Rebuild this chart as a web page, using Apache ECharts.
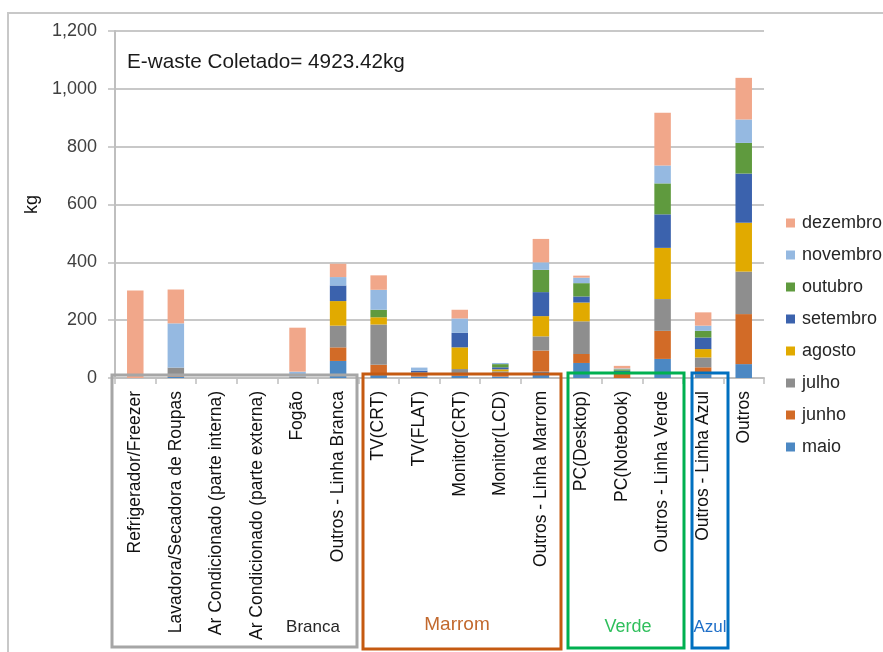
<!DOCTYPE html>
<html>
<head>
<meta charset="utf-8">
<title>E-waste coletado por categoria</title>
<script src="https://cdn.jsdelivr.net/npm/echarts@6/dist/echarts.min.js"></script>
<style>
  html, body { margin: 0; padding: 0; background: #ffffff; }
  #chart { width: 883px; height: 652px; }
</style>
</head>
<body>
<div id="chart"></div>
<script>
// Categorias de resíduos eletroeletrônicos
const categories = [
  'Refrigerador/Freezer',
  'Lavadora/Secadora de Roupas',
  'Ar Condicionado (parte interna)',
  'Ar Condicionado (parte externa)',
  'Fogão',
  'Outros - Linha Branca',
  'TV(CRT)',
  'TV(FLAT)',
  'Monitor(CRT)',
  'Monitor(LCD)',
  'Outros - Linha Marrom',
  'PC(Desktop)',
  'PC(Notebook)',
  'Outros - Linha Verde',
  'Outros - Linha Azul',
  'Outros'
];

// Massa coletada por mês (kg)
const maio     = [0,   5,   0, 0, 0,   59, 10,  5,  8,  5, 22, 52,  0,  66, 12,  48];
const junho    = [0,   3,   0, 0, 0,   47, 36,  5,  6,  8, 73, 31, 20,  97, 25, 173];
const julho    = [0,  28,   0, 0, 5,   75, 139, 10, 17, 10, 49, 113, 0, 110, 34, 147];
const agosto   = [0,   0,   0, 0, 0,   85, 25,  0, 75,  7, 70, 65,  0, 177, 29, 169];
const setembro = [0,   0,   0, 0, 0,   54,  0,  5, 50,  7, 83, 21,  5, 116, 40, 170];
const outubro  = [0,   0,   0, 0, 0,    0, 26,  0,  0, 11, 77, 46,  5, 107, 23, 106];
const novembro = [0, 153,   0, 0, 17,  29, 69, 11, 50,  4, 26, 19,  3,  62, 18,  81];
const dezembro = [303, 117, 0, 0, 152, 46, 50,  0, 30,  0, 81,  7,  9, 182, 46, 144];

const monthNames = ['maio', 'junho', 'julho', 'agosto', 'setembro', 'outubro', 'novembro', 'dezembro'];
const monthData  = [maio, junho, julho, agosto, setembro, outubro, novembro, dezembro];
const monthColors = ['#4c88c3', '#d26b27', '#8e8e8e', '#e1aa00', '#3b62ad', '#5f9a3e', '#95b9e1', '#f1a78a'];

// Valores do eixo y
const yTicks = [0, 200, 400, 600, 800, 1000, 1200];

const totalLabel = 'E-waste Coletado= 4923.42kg';

// Grupos de linhas (rótulo, cor)
const groups = [
  { name: 'Branca', color: '#a6a6a6', text: '#262626' },
  { name: 'Marrom', color: '#c55a11', text: '#c2692e' },
  { name: 'Verde',  color: '#00b050', text: '#2fbf5c' },
  { name: 'Azul',   color: '#0070c0', text: '#1f6fc8' }
];

const FONT = "'Liberation Sans', Arial, sans-serif";

const chart = echarts.init(document.getElementById('chart'), null, { renderer: 'canvas' });

const series = monthNames.map((m, i) => ({
  name: m,
  type: 'bar',
  stack: 'total',
  barWidth: 16.5,
  data: monthData[i],
  itemStyle: { color: monthColors[i] },
  emphasis: { disabled: true }
}));

const boxStroke = (x, y, w, h, color) => ({
  type: 'rect',
  z: 100,
  shape: { x: x, y: y, width: w, height: h },
  style: { fill: 'none', stroke: color, lineWidth: 3 }
});

const groupText = (x, y, text, color, size) => ({
  type: 'text',
  z: 101,
  x: x,
  y: y,
  style: {
    text: text,
    fill: color,
    font: size + 'px ' + FONT,
    textAlign: 'center',
    textVerticalAlign: 'middle'
  }
});

const option = {
  animation: false,
  backgroundColor: '#ffffff',
  textStyle: { fontFamily: FONT },
  grid: { left: 115, right: 119, top: 31, bottom: 274, containLabel: false },
  legend: {
    orient: 'vertical',
    left: 781,
    top: 208,
    icon: 'rect',
    itemWidth: 9,
    itemHeight: 9,
    itemGap: 12,
    data: monthNames.slice().reverse(),
    textStyle: { fontSize: 18, lineHeight: 20, color: '#262626', fontFamily: FONT, padding: [0, 0, 0, 2] },
    selectedMode: false
  },
  xAxis: {
    type: 'category',
    data: categories,
    axisLine: { show: true, lineStyle: { color: '#bfbfbf', width: 2 } },
    axisTick: { show: true, length: 6, alignWithLabel: false, lineStyle: { color: '#bfbfbf', width: 1.5 } },
    axisLabel: {
      interval: 0,
      rotate: 90,
      margin: 13,
      fontSize: 17.5,
      color: '#111111',
      fontFamily: FONT
    }
  },
  yAxis: {
    type: 'value',
    min: yTicks[0],
    max: yTicks[yTicks.length - 1],
    interval: yTicks[1] - yTicks[0],
    name: 'kg',
    nameLocation: 'middle',
    nameGap: 71,
    nameRotate: 90,
    nameTextStyle: { fontSize: 18, color: '#111111', fontFamily: FONT },
    axisLine: { show: true, lineStyle: { color: '#bfbfbf', width: 2 } },
    axisTick: { show: true, inside: false, length: 7, lineStyle: { color: '#bfbfbf', width: 1.5 } },
    axisLabel: {
      margin: 18,
      fontSize: 18,
      color: '#404040',
      fontFamily: FONT,
      formatter: v => v.toLocaleString('en-US')
    },
    splitLine: { show: true, lineStyle: { color: '#c8c8c8', width: 2 } }
  },
  graphic: [
    // moldura externa
    {
      type: 'rect', z: 0,
      shape: { x: 8, y: 13, width: 900, height: 700 },
      style: { fill: 'none', stroke: '#c8c8c8', lineWidth: 2 }
    },
    {
      type: 'text', z: 50,
      x: 127, y: 62,
      style: {
        text: totalLabel,
        fill: '#1a1a1a',
        font: '20.7px ' + FONT,
        textVerticalAlign: 'middle'
      }
    },
    boxStroke(112, 375, 245, 272, groups[0].color),
    boxStroke(363, 374, 198, 275, groups[1].color),
    boxStroke(568, 373, 116, 275, groups[2].color),
    boxStroke(692, 373, 36, 275, groups[3].color),
    groupText(313, 627, groups[0].name, groups[0].text, 17),
    groupText(457, 625, groups[1].name, groups[1].text, 19),
    groupText(628, 627, groups[2].name, groups[2].text, 18),
    groupText(710, 627, groups[3].name, groups[3].text, 17)
  ],
  series: series
};

chart.setOption(option);
</script>
</body>
</html>
